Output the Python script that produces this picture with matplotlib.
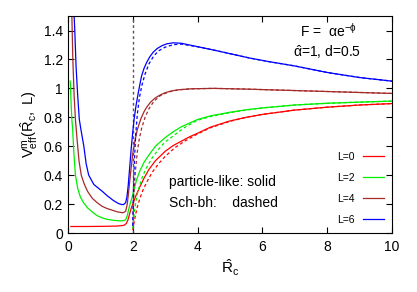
import numpy as np
import matplotlib.pyplot as plt

plt.rcParams['font.family'] = ['Liberation Sans', 'DejaVu Sans']
plt.rcParams['mathtext.fontset'] = 'custom'
plt.rcParams['mathtext.rm'] = 'Liberation Sans'
plt.rcParams['mathtext.it'] = 'Liberation Sans'

# particle-like (solid)
x_l0 = [0.09, 0.5, 1.0, 1.5, 1.7, 1.75, 1.8, 1.85, 1.9, 1.95, 2.0, 2.1, 2.22, 2.35, 2.5, 2.7, 3.0, 3.25, 3.5, 3.75, 4.0, 4.4, 5.0, 5.5, 6.0, 7.0, 8.0, 9.0, 10.0]
y_l0 = [0.045, 0.045, 0.046, 0.048, 0.052, 0.056, 0.066, 0.09, 0.13, 0.17, 0.20, 0.26, 0.32, 0.38, 0.44, 0.50, 0.565, 0.605, 0.635, 0.665, 0.69, 0.732, 0.775, 0.8, 0.82, 0.85, 0.87, 0.885, 0.895]

x_l2 = [0.07, 0.1, 0.12, 0.145, 0.18, 0.23, 0.3, 0.38, 0.48, 0.6, 0.78, 0.9, 1.05, 1.2, 1.4, 1.6, 1.72, 1.78, 1.83, 1.88, 1.93, 1.97, 2.05, 2.12, 2.22, 2.35, 2.5, 2.7, 3.0, 3.25, 3.5, 3.75, 4.0, 4.4, 5.0, 5.5, 6.0, 7.0, 8.0, 9.0, 10.0]
y_l2 = [1.05, 0.88, 0.785, 0.715, 0.56, 0.40, 0.31, 0.25, 0.21, 0.175, 0.14, 0.12, 0.105, 0.095, 0.088, 0.084, 0.085, 0.092, 0.12, 0.17, 0.21, 0.24, 0.31, 0.37, 0.43, 0.49, 0.54, 0.60, 0.66, 0.70, 0.735, 0.76, 0.785, 0.81, 0.835, 0.852, 0.865, 0.885, 0.897, 0.905, 0.912]

x_l4 = [0.12, 0.15, 0.19, 0.23, 0.28, 0.34, 0.41, 0.5, 0.6, 0.75, 0.9, 1.05, 1.2, 1.4, 1.55, 1.7, 1.78, 1.83, 1.88, 1.94, 2.0, 2.07, 2.14, 2.25, 2.35, 2.43, 2.55, 2.7, 2.85, 3.0, 3.15, 3.4, 3.8, 4.5, 5.5, 7.0, 8.5, 10.0]
y_l4 = [1.5, 1.2, 0.95, 0.785, 0.65, 0.5, 0.40, 0.34, 0.29, 0.24, 0.21, 0.185, 0.17, 0.155, 0.145, 0.14, 0.15, 0.2, 0.3, 0.43, 0.55, 0.64, 0.715, 0.79, 0.84, 0.87, 0.905, 0.935, 0.955, 0.97, 0.98, 0.99, 0.997, 1.0, 0.995, 0.985, 0.975, 0.965]

x_l6 = [0.19, 0.21, 0.25, 0.3, 0.35, 0.40, 0.49, 0.56, 0.64, 0.8, 1.05, 1.2, 1.4, 1.55, 1.65, 1.72, 1.78, 1.82, 1.86, 1.9, 1.95, 2.0, 2.04, 2.1, 2.17, 2.27, 2.35, 2.43, 2.53, 2.63, 2.75, 2.9, 3.05, 3.25, 3.5, 4.07, 4.6, 5.1, 5.6, 6.2, 7.0, 8.0, 9.0, 10.0]
y_l6 = [1.5, 1.4, 1.15, 0.95, 0.785, 0.715, 0.6, 0.48, 0.40, 0.335, 0.29, 0.26, 0.225, 0.205, 0.197, 0.197, 0.21, 0.25, 0.33, 0.44, 0.58, 0.70, 0.785, 0.88, 0.97, 1.085, 1.14, 1.18, 1.22, 1.25, 1.275, 1.295, 1.308, 1.315, 1.312, 1.285, 1.26, 1.235, 1.21, 1.185, 1.155, 1.11, 1.075, 1.05]

# Sch-bh (dashed)
xd_l0 = [2.0, 2.03, 2.08, 2.14, 2.22, 2.32, 2.45, 2.6, 2.8, 3.0, 3.3, 3.6, 4.0, 4.4, 5.0, 5.5, 6.0, 7.0, 8.0, 9.0, 10.0]
yd_l0 = [0.02, 0.06, 0.12, 0.18, 0.24, 0.30, 0.36, 0.42, 0.48, 0.53, 0.59, 0.635, 0.685, 0.728, 0.772, 0.8, 0.82, 0.85, 0.87, 0.885, 0.895]

xd_l2 = [2.0, 2.03, 2.07, 2.13, 2.2, 2.3, 2.42, 2.6, 2.8, 3.0, 3.3, 3.6, 4.0, 4.4, 5.0, 5.5, 6.0, 7.0, 8.0, 9.0, 10.0]
yd_l2 = [0.03, 0.10, 0.18, 0.26, 0.32, 0.39, 0.45, 0.52, 0.58, 0.63, 0.68, 0.73, 0.78, 0.805, 0.832, 0.85, 0.865, 0.885, 0.897, 0.905, 0.912]

xd_l4 = [2.0, 2.02, 2.05, 2.09, 2.14, 2.2, 2.28, 2.38, 2.5, 2.65, 2.85, 3.1, 3.4, 3.8, 4.5, 5.5, 7.0, 8.5, 10.0]
yd_l4 = [0.05, 0.20, 0.33, 0.45, 0.56, 0.65, 0.73, 0.80, 0.86, 0.91, 0.95, 0.975, 0.99, 0.997, 1.0, 0.995, 0.985, 0.975, 0.965]

xd_l6 = [2.0, 2.02, 2.05, 2.09, 2.14, 2.2, 2.28, 2.38, 2.5, 2.65, 2.8, 3.0, 3.25, 3.5, 4.07, 4.6, 5.1, 5.6, 6.2, 7.0, 8.0, 9.0, 10.0]
yd_l6 = [0.05, 0.30, 0.50, 0.68, 0.82, 0.93, 1.02, 1.10, 1.17, 1.225, 1.26, 1.285, 1.302, 1.306, 1.285, 1.26, 1.235, 1.21, 1.185, 1.155, 1.11, 1.075, 1.05]

colors = ['#ff0000', '#00ee00', '#a52a2a', '#0000ff']
labels = ['L=0', 'L=2', 'L=4', 'L=6']
solid = [(x_l0, y_l0), (x_l2, y_l2), (x_l4, y_l4), (x_l6, y_l6)]
dashed = [(xd_l0, yd_l0), (xd_l2, yd_l2), (xd_l4, yd_l4), (xd_l6, yd_l6)]

fig = plt.figure(figsize=(4.17, 2.92), dpi=100)
ax = fig.add_axes([0.163, 0.202, 0.777, 0.743])

ax.axvline(2.0, color='#555555', ls=(0, (2, 2)), lw=1)
for (xs, ys), c, lab in zip(solid, colors, labels):
    ax.plot(xs, ys, color=c, lw=0.9, label=lab)
for (xs, ys), c in zip(dashed, colors):
    ax.plot(xs, ys, color=c, lw=0.9, ls=(0, (2.5, 2)))

ax.set_xlim(0, 10)
ax.set_ylim(0, 1.5)
ax.set_xticks([0, 2, 4, 6, 8, 10])
ax.set_yticks([0, 0.2, 0.4, 0.6, 0.8, 1.0, 1.2, 1.4])
ax.set_yticklabels(['0', '0.2', '0.4', '0.6', '0.8', '1', '1.2', '1.4'])
ax.tick_params(direction='in', top=True, right=True, length=4, labelsize=10)
ax.tick_params(axis='x', pad=5)

ax.set_xlabel(r'$\hat{\mathrm{R}}_\mathrm{c}$', fontsize=11, labelpad=3)
ax.set_ylabel(r'$\mathrm{V}^\mathrm{m}_\mathrm{eff}(\hat{\mathrm{R}}_\mathrm{c},\ \mathrm{L})$', fontsize=10.5, labelpad=3)

ax.text(7.15, 1.40, r'F =  $\alpha$e$^{-\phi}$', fontsize=10, va='center')
ax.text(6.95, 1.25, r'$\hat{\alpha}$=1, d=0.5', fontsize=10, va='center')
ax.text(3.12, 0.355, 'particle-like: solid', fontsize=10, va='center')
ax.text(3.12, 0.205, 'Sch-bh:    dashed', fontsize=10, va='center')

ax.legend(loc='lower right', frameon=False, fontsize=7.5, markerfirst=False,
          handlelength=2.0, labelspacing=1.05, borderaxespad=0.4, handletextpad=0.8)

fig.savefig('out.png', dpi=100)
